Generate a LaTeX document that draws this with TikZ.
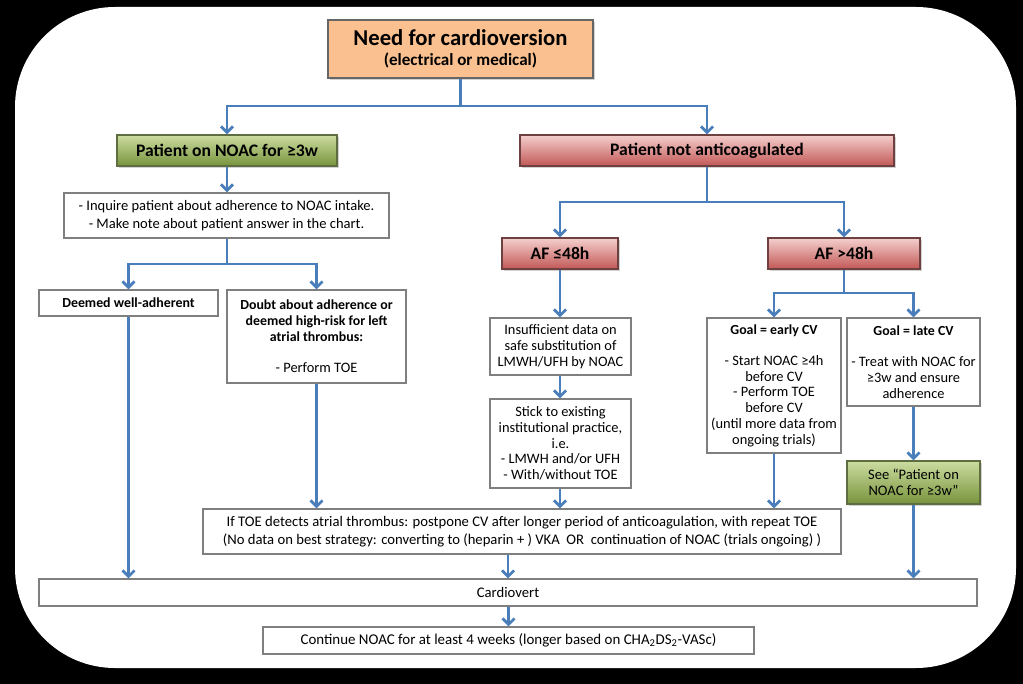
\documentclass[tikz,border=0pt]{standalone}
\usepackage{fontspec}
\setmainfont{Carlito}
\usetikzlibrary{arrows.meta,shadows}
\definecolor{arr}{HTML}{4A7EBB}
\definecolor{boxgray}{HTML}{7F7F7F}
\definecolor{orfill}{HTML}{FAC090}
\definecolor{gtop}{HTML}{CCDDA0}
\definecolor{gbot}{HTML}{77933C}
\definecolor{gbrd}{HTML}{5E6E40}
\definecolor{rtop}{HTML}{F4CFCD}
\definecolor{rbot}{HTML}{C25856}
\definecolor{rbrd}{HTML}{6E4040}
\newcommand\fsz[2]{\fontsize{#1}{#2}\selectfont}
\tikzset{
  wh/.style 2 args={minimum width=#1*0.75pt, minimum height=#2*0.75pt},
  conn/.style={draw=arr, line width=2pt, -{Straight Barb[length=4.5pt,width=9pt]}},
  box/.style={draw=boxgray, line width=1.1pt, fill=white, inner sep=0pt, align=center, font=\fsz{10.8}{11.8}},
  shad/.style={drop shadow={shadow xshift=1.2pt, shadow yshift=-1.5pt, opacity=0.35}},
  greenbox/.style={box, shad, draw=gbrd, top color=gtop, bottom color=gbot},
  redbox/.style={box, shad, draw=rbrd, top color=rtop, bottom color=rbot},
  orangebox/.style={box, shad, draw=boxgray!80!black, fill=orfill},
  hdr/.style={font=\fsz{13.2}{15}\bfseries},
  sub/.style={font=\fsz{10.4}{11.8}\bfseries},
}
\begin{document}
\begin{tikzpicture}[x=0.75pt,y=-0.75pt]
\useasboundingbox (0,0) rectangle (1023,684);
\fill[black] (0,0) rectangle (1023,684);
\fill[white, rounded corners=75pt] (15,7) rectangle (1016,668);

% nodes
\node[orangebox, wh={265}{58}] (top) at (460.5,49)
  {{\fsz{17}{19}\bfseries Need for cardioversion}\\[3.5pt]{\fsz{12.8}{14}\bfseries (electrical or medical)}};
\node[greenbox, wh={220}{31}, hdr] (noac) at (227,150.5) {Patient on NOAC for ≥3w};
\node[redbox, wh={374}{31}, hdr] (notanti) at (707,150.5) {Patient not anticoagulated};
\node[box, wh={325}{45}, font=\fsz{10.9}{13.3}] (inquire) at (226.5,215.5)
  {- Inquire patient about adherence to NOAC intake.\\- Make note about patient answer in the chart.};
\node[box, wh={179}{26}, sub] (deemed) at (128.5,303) {Deemed well-adherent};
\node[box, wh={179}{93}] (doubt) at (316.5,336.5)
  {{\bfseries\fsz{10.4}{11.8}Doubt about adherence or}\\{\bfseries\fsz{10.4}{11.8}deemed high-risk for left}\\{\bfseries\fsz{10.4}{11.8}atrial thrombus:}\\[11.8pt]- Perform TOE};
\node[redbox, wh={116}{31}, hdr] (afle) at (560,253.5) {AF ≤48h};
\node[redbox, wh={152}{31}, hdr] (afgt) at (844,253.5) {AF >48h};
\node[box, wh={141}{57}] (insuff) at (560.5,346.5)
  {Insufficient data on\\safe substitution of\\LMWH/UFH by NOAC};
\node[box, wh={141}{89}] (stick) at (560.5,443.5)
  {Stick to existing\\institutional practice,\\i.e.\\- LMWH and/or UFH\\- With/without TOE};
\node[box, wh={134}{135}] (early) at (774,385.5)
  {{\bfseries\fsz{10.4}{11.8}Goal = early CV}\\[11.8pt]- Start NOAC ≥4h\\before CV\\- Perform TOE\\before CV\\(until more data from\\ongoing trials)};
\node[box, wh={133}{88}] (late) at (913.5,362)
  {{\bfseries\fsz{10.4}{11.8}Goal = late CV}\\[11.8pt]- Treat with NOAC for\\≥3w and ensure\\adherence};
\node[greenbox, wh={133}{43}, font=\fsz{10.9}{12.4}] (see) at (913.5,482.5)
  {See “Patient on\\NOAC for ≥3w”};
\node[box, wh={638}{45}, font=\fsz{11}{13}] (toe) at (522,531.5)
  {If TOE detects atrial thrombus: postpone CV after longer period of anticoagulation, with repeat TOE\\(No data on best strategy: converting to (heparin + ) VKA \ OR \ continuation of NOAC (trials ongoing) )};
\node[box, wh={938}{27}, font=\fsz{11}{13}] (cardio) at (508,592.5) {Cardiovert};
\node[box, wh={491}{27}, font=\fsz{11.2}{13}] (cont) at (508.5,640.5)
  {Continue NOAC for at least 4 weeks (longer based on CHA\textsubscript{2}DS\textsubscript{2}-VASc)};

% connectors
\coordinate (j1) at (460.5,106);
\coordinate (j2) at (227,264);
\coordinate (j3) at (707,202);
\coordinate (j4) at (844,293);
\draw[conn] (top.south) -- (j1) -| (noac.north);
\draw[conn] (j1) -| (notanti.north);
\draw[conn] (noac.south) -- (inquire.north -| noac.south);
\draw[conn] (inquire.south -| j2) -- (j2) -| (deemed.north);
\draw[conn] (j2) -| (doubt.north);
\draw[conn] (notanti.south) -- (j3) -| (afle.north);
\draw[conn] (j3) -| (afgt.north);
\draw[conn] (afgt.south) -- (j4) -| (early.north);
\draw[conn] (j4) -| (late.north);
\draw[conn] (afle.south) -- (insuff.north -| afle.south);
\draw[conn] (insuff.south -| afle.south) -- (stick.north -| afle.south);
\draw[conn] (stick.south -| afle.south) -- (toe.north -| afle.south);
\draw[conn] (doubt.south) -- (toe.north -| doubt.south);
\draw[conn] (early.south) -- (toe.north -| early.south);
\draw[conn] (late.south) -- (see.north);
\draw[conn] (see.south) -- (cardio.north -| see.south);
\draw[conn] (deemed.south) -- (cardio.north -| deemed.south);
\draw[conn] (toe.south -| cardio.north) -- (cardio.north);
\draw[conn] (cardio.south -| cont.north) -- (cont.north);
\end{tikzpicture}
\end{document}
